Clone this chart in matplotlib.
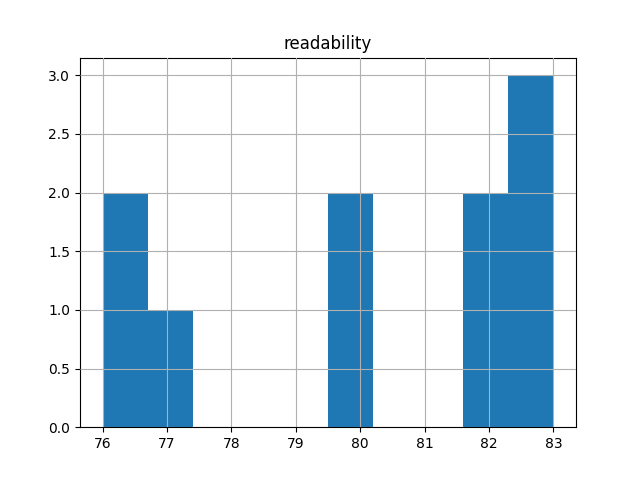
import matplotlib
matplotlib.use("Agg")
import matplotlib.pyplot as plt

# readability scores (10 documents)
readability = [76.0, 76.3, 77.0, 79.8, 80.0, 81.8, 82.0, 82.5, 82.8, 83.0]

fig, ax = plt.subplots(figsize=(6.4, 4.8), dpi=100)
ax.hist(readability, bins=10, color="#1f77b4", zorder=2)
ax.grid(True, zorder=0)
ax.set_axisbelow(False)
ax.set_title("readability")

fig.savefig("out.png")
